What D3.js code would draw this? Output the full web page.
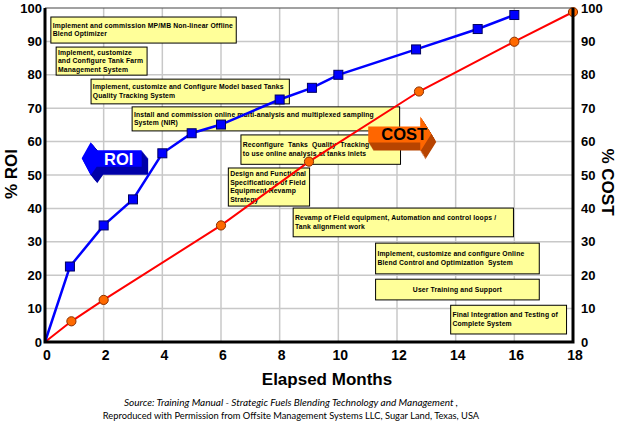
<!DOCTYPE html>
<html>
<head>
<meta charset="utf-8">
<script src="https://cdn.jsdelivr.net/npm/d3@7"></script>
<style>
  body { margin: 0; background: #fff; }
  svg { display: block; }
</style>
</head>
<body>
<svg id="canvas" width="625" height="424"></svg>
<script>
// ROI curve (blue squares)
let roiMonths = [0, 0.85, 2, 3, 4, 5, 6, 8, 9.1, 10, 12.65, 14.75, 16]
let roiValues = [0, 22.6, 34.9, 42.7, 56.5, 62.5, 65.1, 72.6, 76.1, 80, 87.6, 93.7, 97.9]

// COST curve (orange circles)
let costMonths = [0, 0.9, 2, 6, 9, 12.75, 16, 18]
let costValues = [0, 6.2, 12.6, 34.9, 54, 75, 89.9, 98.8]

let xTicks = [0, 2, 4, 6, 8, 10, 12, 14, 16, 18]
let yTicks = [0, 10, 20, 30, 40, 50, 60, 70, 80, 90, 100]

// project activity boxes: text lines, then box extent in (months, %)
let taskLines = [
    ["Implement and commission MP/MB Non-linear Offline", "Blend Optimizer"],
    ["Implement, customize", "and Configure Tank Farm", "Management System"],
    ["Implement, customize and Configure Model based Tanks", "Quality Tracking System"],
    ["Install and commission online multi-analysis and multiplexed sampling", "System (NIR)"],
    ["Reconfigure  Tanks  Quality  Tracking", "to use online analysis at tanks inlets"],
    ["Design and Functional", "Specifications of Field", "Equipment Revamp", "Strategy"],
    ["Revamp of Field equipment, Automation and control loops /", "Tank alignment work"],
    ["Implement, customize and configure Online", "Blend Control and Optimization  System"],
    ["User Training and Support"],
    ["Final Integration and Testing of", "Complete System"]
]
let taskFrom = [0.2, 0.38, 1.57, 2.97, 6.68, 6.25, 8.46, 11.27, 11.27, 13.83]
let taskTo = [6.52, 3.48, 8.33, 12.09, 12.12, 9.02, 15.97, 16.85, 16.85, 17.78]
let taskTop = [97.3, 88.3, 78.7, 70.4, 62.0, 52.1, 40.1, 29.6, 18.8, 11.0]
let taskBottom = [89.5, 79.9, 71.3, 63.2, 53.2, 40.7, 31.5, 20.4, 12.6, 2.4]

let sourceLines = [
    "Source: Training Manual - Strategic Fuels Blending Technology and Management ,",
    "Reproduced with Permission from Offsite Management Systems LLC, Sugar Land, Texas, USA"
]

let canvas = d3.select("#canvas")

let plotLeft = 45
let plotRight = 573
let plotTop = 8
let plotBottom = 342

let xScale = d3.scaleLinear().domain([0, 18]).range([plotLeft, plotRight])
let yScale = d3.scaleLinear().domain([0, 100]).range([plotBottom, plotTop])

let font = "'Liberation Sans', Arial, sans-serif"

// grid
canvas.append("g")
    .selectAll("line")
    .data(xTicks.slice(1, -1))
    .enter()
    .append("line")
    .attr("x1", (d) => xScale(d))
    .attr("x2", (d) => xScale(d))
    .attr("y1", plotTop)
    .attr("y2", plotBottom)
    .attr("stroke", "#c8c8c8")
    .attr("stroke-width", 1.5)

canvas.append("g")
    .selectAll("line")
    .data(yTicks.slice(1, -1))
    .enter()
    .append("line")
    .attr("x1", plotLeft)
    .attr("x2", plotRight)
    .attr("y1", (d) => yScale(d))
    .attr("y2", (d) => yScale(d))
    .attr("stroke", "#c8c8c8")
    .attr("stroke-width", 1.5)

// task boxes
let lineHeight = 8.6
let tasks = canvas.selectAll(".task")
    .data(taskLines)
    .enter()
    .append("g")
    .attr("class", "task")

tasks.append("rect")
    .attr("x", (d, i) => xScale(taskFrom[i]))
    .attr("y", (d, i) => yScale(taskTop[i]))
    .attr("width", (d, i) => xScale(taskTo[i]) - xScale(taskFrom[i]))
    .attr("height", (d, i) => yScale(taskBottom[i]) - yScale(taskTop[i]))
    .attr("fill", "#ffff99")
    .attr("stroke", "#000")
    .attr("stroke-width", 1)

tasks.each(function (lines, i) {
    let x0 = xScale(taskFrom[i])
    let x1 = xScale(taskTo[i])
    let y0 = yScale(taskTop[i])
    let h = yScale(taskBottom[i]) - y0
    let centered = lines.length == 1
    let start = y0 + (h - lines.length * lineHeight) / 2 + 6.3
    d3.select(this).selectAll("text")
        .data(lines)
        .enter()
        .append("text")
        .attr("x", centered ? (x0 + x1) / 2 : x0 + 1.8)
        .attr("y", (d, j) => start + j * lineHeight)
        .attr("text-anchor", centered ? "middle" : "start")
        .attr("font-family", font)
        .attr("font-weight", "bold")
        .attr("font-size", "6.8px")
        .attr("letter-spacing", "0.15px")
        .style("white-space", "pre")
        .text((d) => d)
})

// 3D block arrows
let drawArrow = (shape, ox, oy, depth, front, side, label, labelColor, lx, ly) => {
    let g = canvas.append("g").attr("transform", "translate(" + ox + "," + oy + ")")
    for (let s = 8; s >= 1; s--) {
        g.append("polygon")
            .attr("points", shape.map((p) => (p[0] + depth[0] * s / 8) + "," + (p[1] + depth[1] * s / 8)).join(" "))
            .attr("fill", side)
    }
    g.append("polygon")
        .attr("points", shape.map((p) => p.join(",")).join(" "))
        .attr("fill", front)
    g.append("text")
        .attr("x", lx)
        .attr("y", ly)
        .attr("text-anchor", "middle")
        .attr("font-family", font)
        .attr("font-weight", "bold")
        .attr("font-size", "16.5px")
        .attr("fill", labelColor)
        .text(label)
}

drawArrow([[0, 0], [9, -16], [15, -8], [60, -8], [60, 8.5], [15, 8.5], [9, 17]],
    xScale(1.25), yScale(55), [6.5, 8], "#0000ff", "#0000a8", "ROI", "#fff", 37, 7)

drawArrow([[0, 0], [52, 0], [52, -10], [63, 7.5], [52, 25], [52, 16], [0, 16]],
    xScale(11.02), yScale(64.5), [5, 8], "#ff6600", "#b84400", "COST", "#000", 36, 13.5)

// curves
let line = d3.line()
    .x((d) => xScale(d[0]))
    .y((d) => yScale(d[1]))

let roiPoints = roiMonths.map((m, i) => [m, roiValues[i]])
let costPoints = costMonths.map((m, i) => [m, costValues[i]])

canvas.append("path")
    .attr("d", line(costPoints))
    .attr("fill", "none")
    .attr("stroke", "#ff0000")
    .attr("stroke-width", 2)

canvas.append("path")
    .attr("d", line(roiPoints))
    .attr("fill", "none")
    .attr("stroke", "#0000ff")
    .attr("stroke-width", 2.5)

canvas.append("g")
    .selectAll("rect")
    .data(roiPoints.filter((p) => p[0] > 0))
    .enter()
    .append("rect")
    .attr("x", (d) => xScale(d[0]) - 4.5)
    .attr("y", (d) => yScale(d[1]) - 4.5)
    .attr("width", 9)
    .attr("height", 9)
    .attr("fill", "#0000ff")
    .attr("stroke", "#000060")
    .attr("stroke-width", 1)

canvas.append("g")
    .selectAll("circle")
    .data(costPoints.filter((p) => p[0] > 0))
    .enter()
    .append("circle")
    .attr("cx", (d) => xScale(d[0]))
    .attr("cy", (d) => yScale(d[1]))
    .attr("r", 4.6)
    .attr("fill", "#ff6a00")
    .attr("stroke", "#8a3000")
    .attr("stroke-width", 1)

// frame
canvas.append("line")
    .attr("x1", plotLeft).attr("x2", plotRight).attr("y1", plotTop).attr("y2", plotTop)
    .attr("stroke", "#444").attr("stroke-width", 1.2)
canvas.append("path")
    .attr("d", "M" + plotLeft + "," + plotTop + "V" + plotBottom + "H" + plotRight + "V" + plotTop)
    .attr("fill", "none")
    .attr("stroke", "#000")
    .attr("stroke-width", 3)

// axes
let leftAxis = d3.axisLeft(yScale).tickValues(yTicks).tickSize(0).tickPadding(3)
let rightAxis = d3.axisRight(yScale).tickValues(yTicks).tickSize(0).tickPadding(8)
let bottomAxis = d3.axisBottom(xScale).tickValues(xTicks).tickSize(0).tickPadding(8)

let styleAxis = (g) => {
    g.select(".domain").remove()
    g.selectAll("text")
        .attr("font-family", font)
        .attr("font-weight", "bold")
        .attr("font-size", "13px")
        .attr("fill", "#000")
}

canvas.append("g").attr("transform", "translate(" + plotLeft + ",0)").call(leftAxis).call(styleAxis)
canvas.append("g").attr("transform", "translate(" + plotRight + ",0)").call(rightAxis).call(styleAxis)
canvas.append("g").attr("transform", "translate(1.5," + plotBottom + ")").call(bottomAxis).call(styleAxis)
    .selectAll("text")
    .attr("font-family", "'Liberation Sans Narrow', 'Arial Narrow', sans-serif")
    .attr("font-size", "14px")

// titles
canvas.append("text")
    .attr("transform", "translate(17,174) rotate(-90)")
    .attr("text-anchor", "middle")
    .attr("font-family", font)
    .attr("font-weight", "bold")
    .attr("font-size", "17px")
    .text("% ROI")

canvas.append("text")
    .attr("transform", "translate(602,182) rotate(90)")
    .attr("text-anchor", "middle")
    .attr("font-family", font)
    .attr("font-weight", "bold")
    .attr("font-size", "17px")
    .text("% COST")

canvas.append("text")
    .attr("x", 327)
    .attr("y", 385)
    .attr("text-anchor", "middle")
    .attr("font-family", font)
    .attr("font-weight", "bold")
    .attr("font-size", "17px")
    .text("Elapsed Months")

canvas.selectAll(".source")
    .data(sourceLines)
    .enter()
    .append("text")
    .attr("class", "source")
    .attr("x", 291)
    .attr("y", (d, i) => 406 + i * 13)
    .attr("text-anchor", "middle")
    .attr("font-family", "Lato, 'Open Sans', sans-serif")
    .attr("font-size", (d, i) => i == 0 ? "10px" : "9.3px")
    .attr("font-style", (d, i) => i == 0 ? "italic" : "normal")
    .text((d) => d)
</script>
</body>
</html>
